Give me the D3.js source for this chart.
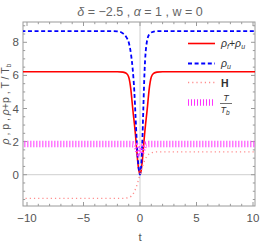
<!DOCTYPE html>
<html><head><meta charset="utf-8">
<script src="https://cdn.jsdelivr.net/npm/d3@7"></script>
<style>body{margin:0;background:#fff}svg{display:block}text{font-family:"Liberation Sans",Arial,sans-serif}</style>
</head><body><svg id="c" width="262" height="245"></svg>
<script>
// ---- data ----
const tRed  = [-10.5,-3,-2,-1.5,-1.2,-1.0,-0.9,-0.8,-0.7,-0.6,-0.5,-0.4,-0.3,-0.2,-0.1,0,0.1,0.2,0.3,0.4,0.5,0.6,0.7,0.8,0.9,1.0,1.2,1.5,2,3,10.5];
const red   = [6.22,6.22,6.22,6.2,6.12,5.9,5.6,5.1,4.4,3.7,3.1,2.4,1.6,0.8,0.25,0.05,0.25,0.8,1.6,2.4,3.1,3.7,4.4,5.1,5.6,5.9,6.12,6.2,6.22,6.22,6.22];
const tBlue = [-10.5,-3,-2,-1.6,-1.2,-1.0,-0.8,-0.65,-0.5,-0.4,-0.3,-0.2,-0.1,0,0.1,0.2,0.3,0.4,0.5,0.6,0.7,0.9,1.2,1.5,2,10.5];
const blue  = [8.68,8.68,8.66,8.58,8.3,8.0,7.3,6.4,5.0,3.6,2.2,1.05,0.3,0.0,0.5,1.9,4.1,6.2,7.4,8.0,8.3,8.55,8.64,8.67,8.68,8.68];
const tH    = [-10.5,-1.5,-1.2,-1.0,-0.8,-0.6,-0.4,-0.2,0,0.2,0.4,0.6,0.8,1.0,1.2,1.5,10.5];
const H     = [-1.43,-1.43,-1.41,-1.38,-1.31,-1.15,-0.87,-0.47,0,0.46,0.84,1.1,1.25,1.32,1.36,1.38,1.38];
const tT    = [-10.5,-0.8,-0.6,-0.4,-0.3,-0.2,-0.1,0,0.1,0.2,0.3,0.4,0.6,0.8,10.5];
const T     = [1.85,1.85,1.84,1.78,1.68,1.52,1.34,1.26,1.34,1.52,1.68,1.78,1.84,1.85,1.85];
const xTicks = [-10,-5,0,5,10];
const yTicks = [0,2,4,6,8];

// ---- layout ----
const svg = d3.select("#c");
const L=23,R=255,Tp=22,B=206;
const x = d3.scaleLinear().domain([-10,10]).range([27,253]);
const y = d3.scaleLinear().domain([0,8]).range([174.7,42.3]);
const frameCol="#9a9a9a", txtCol="#555";

svg.append("text").attr("x",140).attr("y",16).attr("text-anchor","middle")
  .attr("font-size",12.5).attr("fill","#666")
  .html('<tspan font-style="italic">δ</tspan> = −2.5 ,  <tspan font-style="italic">α</tspan> = 1 , w = 0');

svg.append("clipPath").attr("id","cp").append("rect").attr("x",L).attr("y",Tp).attr("width",R-L).attr("height",B-Tp);

// zero lines
svg.append("line").attr("x1",x(0)).attr("x2",x(0)).attr("y1",Tp).attr("y2",B).attr("stroke","#cfcfcf").attr("stroke-width",1);
svg.append("line").attr("x1",L).attr("x2",R).attr("y1",y(0)).attr("y2",y(0)).attr("stroke","#cfcfcf").attr("stroke-width",1);

// frame
svg.append("rect").attr("x",L).attr("y",Tp).attr("width",R-L).attr("height",B-Tp)
  .attr("fill","none").attr("stroke",frameCol).attr("stroke-width",1);

// ticks
const xMinor = d3.range(-10,10.01,1), yMinor = d3.range(-1.5,9.01,0.5);
xMinor.forEach(v=>{
  const major = xTicks.includes(v); const len = major?4:2.2;
  svg.append("line").attr("x1",x(v)).attr("x2",x(v)).attr("y1",B).attr("y2",B-len).attr("stroke",frameCol);
  svg.append("line").attr("x1",x(v)).attr("x2",x(v)).attr("y1",Tp).attr("y2",Tp+len).attr("stroke",frameCol);
});
yMinor.forEach(v=>{
  const major = yTicks.includes(v); const len = major?4:2.2;
  svg.append("line").attr("y1",y(v)).attr("y2",y(v)).attr("x1",L).attr("x2",L+len).attr("stroke",frameCol);
  svg.append("line").attr("y1",y(v)).attr("y2",y(v)).attr("x1",R).attr("x2",R-len).attr("stroke",frameCol);
});
xTicks.forEach(v=>{
  svg.append("text").attr("x",x(v)).attr("y",222).attr("text-anchor","middle").attr("font-size",11.5).attr("fill",txtCol)
    .text(v<0?"−"+Math.abs(v):v);
});
yTicks.forEach(v=>{
  svg.append("text").attr("x",19).attr("y",y(v)+4).attr("text-anchor","end").attr("font-size",11.5).attr("fill",txtCol).text(v);
});
svg.append("text").attr("x",140).attr("y",241).attr("text-anchor","middle").attr("font-size",11.5).attr("fill",txtCol).text("t");
svg.append("text").attr("transform","translate(9,104) rotate(-90)").attr("text-anchor","middle").attr("font-size",10.5).attr("fill",txtCol)
  .html('<tspan font-style="italic">ρ</tspan> , p , <tspan font-style="italic">ρ</tspan>+p , T / T<tspan font-size="7" dy="2">b</tspan>');

// curves
const g = svg.append("g").attr("clip-path","url(#cp)");
const line = d3.line().x(d=>x(d[0])).y(d=>y(d[1])).curve(d3.curveMonotoneX);
const series = [
  {t:tRed, v:red, color:"#ff0000", w:1.6, dash:null},
  {t:tBlue, v:blue, color:"#0000ff", w:1.8, dash:"4,2.6"},
  {t:tH, v:H, color:"#ff8c8c", w:1.4, dash:"1.2,3"},
  {t:tT, v:T, color:"#ff33ff", w:6.5, dash:"1,2"}
];
series.forEach(s=>{
  g.append("path").attr("d",line(s.t.map((t,i)=>[t,s.v[i]]))).attr("fill","none")
    .attr("stroke",s.color).attr("stroke-width",s.w).attr("stroke-dasharray",s.dash);
});

// legend
const lx1=188,lx2=215,tx=221;
const leg = [
  {y:43.5, s:series[0]},{y:63.5, s:series[1]},{y:82.5, s:series[2]},{y:102.5, s:series[3]}
];
leg.forEach(o=>{
  svg.append("line").attr("x1",lx1).attr("x2",lx2).attr("y1",o.y).attr("y2",o.y)
    .attr("stroke",o.s.color).attr("stroke-width",o.s.w).attr("stroke-dasharray",o.s.dash);
});
const lc="#333";
svg.append("text").attr("x",tx).attr("y",47).attr("font-size",10.5).attr("fill",lc)
  .html('<tspan font-style="italic">ρ</tspan><tspan font-size="7" dy="2" font-style="italic">f</tspan><tspan dy="-2">+</tspan><tspan font-style="italic">ρ</tspan><tspan font-size="7" dy="2" font-style="italic">u</tspan>');
svg.append("text").attr("x",tx).attr("y",67).attr("font-size",10.5).attr("fill",lc)
  .html('<tspan font-style="italic">ρ</tspan><tspan font-size="7" dy="2" font-style="italic">u</tspan>');
svg.append("text").attr("x",tx).attr("y",87).attr("font-size",10.5).attr("font-weight","bold").attr("fill",lc).text("H");
svg.append("text").attr("x",tx+5).attr("y",101).attr("text-anchor","middle").attr("font-size",9).attr("font-style","italic").attr("fill",lc).text("T");
svg.append("line").attr("x1",tx-1).attr("x2",tx+11).attr("y1",103.5).attr("y2",103.5).attr("stroke",lc).attr("stroke-width",0.7);
svg.append("text").attr("x",tx+4).attr("y",113).attr("text-anchor","middle").attr("font-size",9).attr("font-style","italic").attr("fill",lc)
  .html('T<tspan font-size="6.5" dy="2">b</tspan>');
</script></body></html>
